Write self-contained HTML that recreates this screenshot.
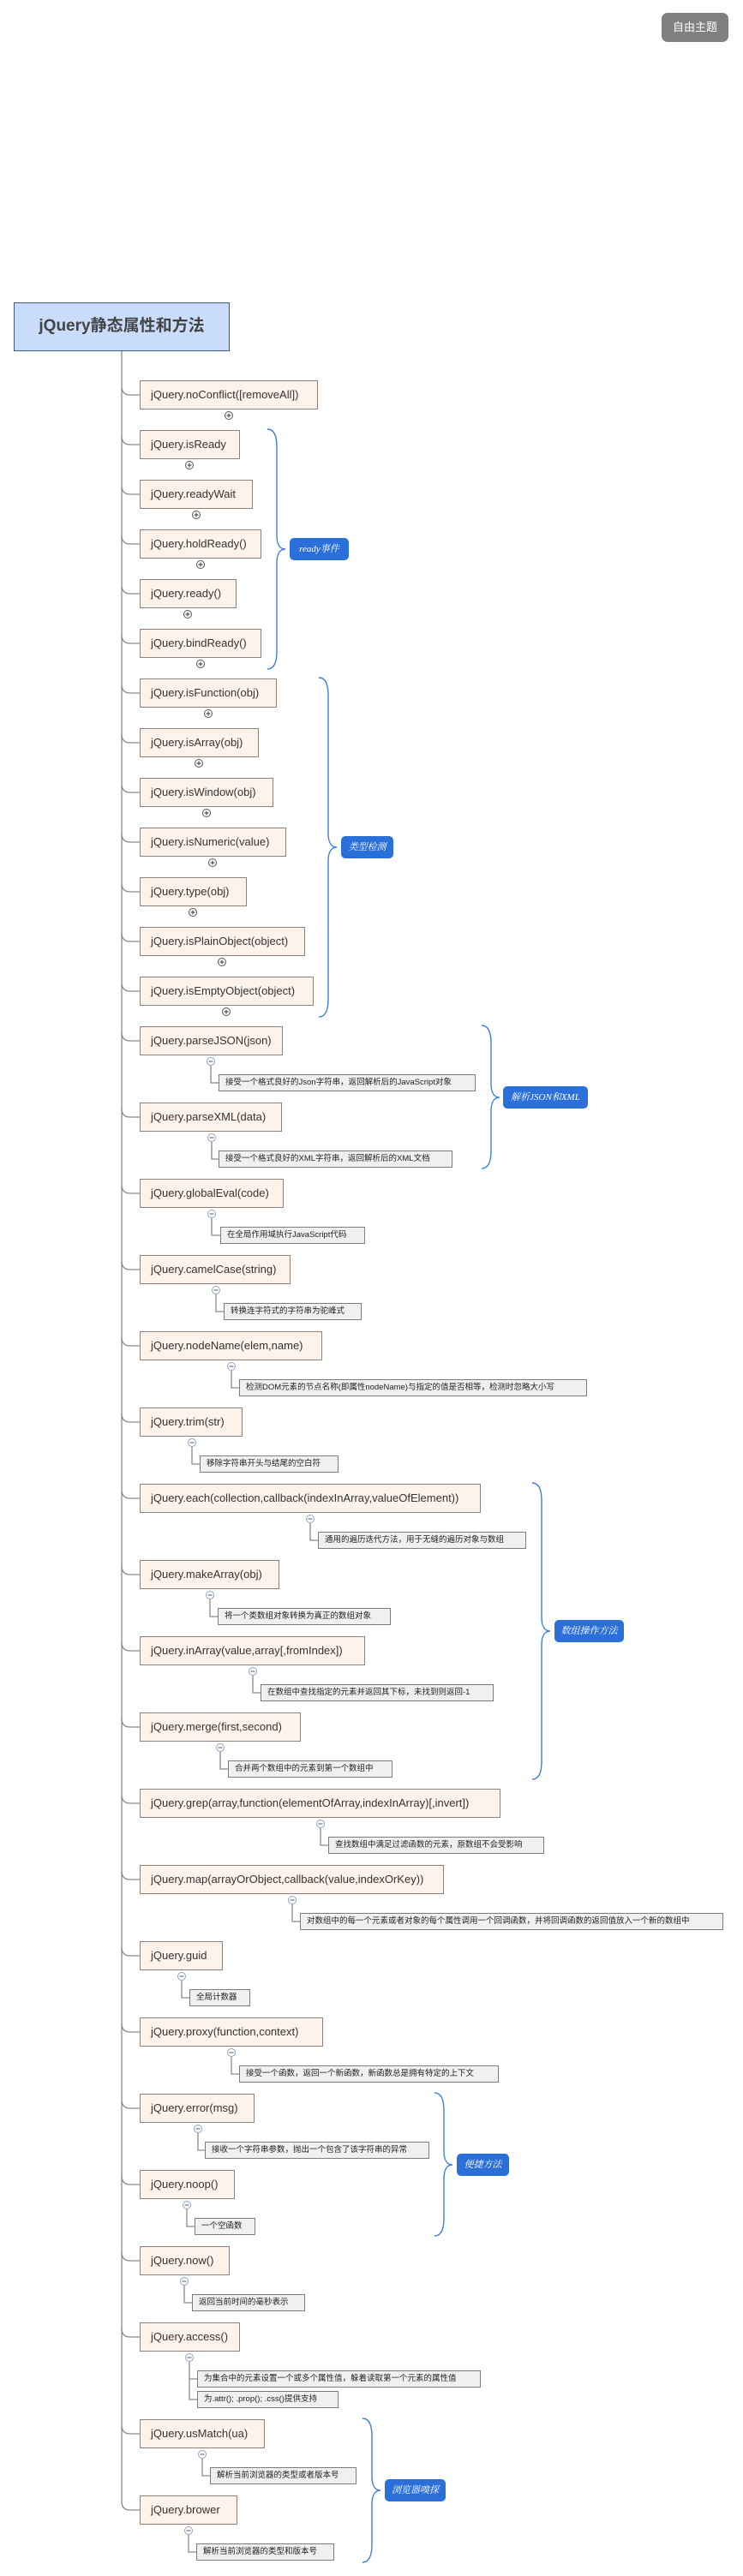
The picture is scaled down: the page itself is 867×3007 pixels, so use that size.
<!DOCTYPE html>
<html><head><meta charset="utf-8"><style>
body{margin:0;width:867px;height:3007px;position:relative;background:#fff;font-family:"Liberation Sans","Noto Sans CJK SC",sans-serif;overflow:hidden}
.n{position:absolute;left:163px;height:34px;box-sizing:border-box;border:1px solid #8f8079;background:#fdf3ea;font-size:13px;line-height:32px;padding-left:12px;color:#333;white-space:nowrap}
.d{position:absolute;height:20px;box-sizing:border-box;border:1px solid #7d7d7d;background:#f0f0f0;font-size:9.5px;line-height:18px;padding-left:7px;color:#222;white-space:nowrap;overflow:hidden}
.t{position:absolute;height:26px;background:#2b70d9;border-radius:5px;color:#fff;font-family:"Liberation Serif","Noto Serif CJK SC",serif;font-style:italic;font-size:11px;line-height:26px;text-align:center}
svg{position:absolute;left:0;top:0}
</style></head><body>
<div style="position:absolute;left:772px;top:15px;width:78px;height:34px;background:#808080;border-radius:7px;color:#fff;font-size:13px;line-height:34px;text-align:center">自由主题</div>
<div style="position:absolute;left:16px;top:353px;width:252px;height:57px;box-sizing:border-box;border:1.5px solid #3b5a8a;background:#c9ddfb;color:#444;font-weight:bold;font-size:19px;line-height:54px;text-align:center">jQuery静态属性和方法</div>

<svg width="867" height="3007" fill="none">
<g stroke="#8a8a8a" stroke-width="1.3">
<path d="M142 410 V2920 Q142 2930 152 2930 H163"/>
<path d="M142 451 Q142 461 152 461 H163 M142 509 Q142 519 152 519 H163 M142 567 Q142 577 152 577 H163 M142 625 Q142 635 152 635 H163 M142 683 Q142 693 152 693 H163 M142 741 Q142 751 152 751 H163 M142 799 Q142 809 152 809 H163 M142 857 Q142 867 152 867 H163 M142 915 Q142 925 152 925 H163 M142 973 Q142 983 152 983 H163 M142 1031 Q142 1041 152 1041 H163 M142 1089 Q142 1099 152 1099 H163 M142 1147 Q142 1157 152 1157 H163 M142 1205 Q142 1215 152 1215 H163 M142 1294 Q142 1304 152 1304 H163 M142 1383 Q142 1393 152 1393 H163 M142 1472 Q142 1482 152 1482 H163 M142 1561 Q142 1571 152 1571 H163 M142 1650 Q142 1660 152 1660 H163 M142 1739 Q142 1749 152 1749 H163 M142 1828 Q142 1838 152 1838 H163 M142 1917 Q142 1927 152 1927 H163 M142 2006 Q142 2016 152 2016 H163 M142 2095 Q142 2105 152 2105 H163 M142 2184 Q142 2194 152 2194 H163 M142 2273 Q142 2283 152 2283 H163 M142 2362 Q142 2372 152 2372 H163 M142 2451 Q142 2461 152 2461 H163 M142 2540 Q142 2550 152 2550 H163 M142 2629 Q142 2639 152 2639 H163 M142 2718 Q142 2728 152 2728 H163 M142 2831 Q142 2841 152 2841 H163"/>
<path d="M246 1244V1264H255M247 1333V1353H255M247 1422V1442H257M252 1511V1531H261M270 1600V1620H279M224 1689V1709H233M362 1778V1798H371M245 1867V1887H254M295 1956V1976H304M257 2045V2065H266M374 2134V2154H383M341 2223V2243H350M212 2312V2332H221M270 2401V2421H279M231 2490V2510H239M218 2579V2599H227M215 2668V2688H224M221 2757V2801H230M221 2777H230M236 2870V2890H245M220 2959V2979H229"/>
</g>
<g stroke="#555" stroke-width="1" fill="#fff">
<circle cx="267" cy="485" r="4.5"/><circle cx="221" cy="543" r="4.5"/><circle cx="229" cy="601" r="4.5"/><circle cx="234" cy="659" r="4.5"/><circle cx="219" cy="717" r="4.5"/><circle cx="234" cy="775" r="4.5"/><circle cx="243" cy="833" r="4.5"/><circle cx="232" cy="891" r="4.5"/><circle cx="241" cy="949" r="4.5"/><circle cx="248" cy="1007" r="4.5"/><circle cx="225" cy="1065" r="4.5"/><circle cx="259" cy="1123" r="4.5"/><circle cx="264" cy="1181" r="4.5"/>
</g>
<g stroke="#333" stroke-width="1">
<path d="M264.5 485h5M267 482.5v5M218.5 543h5M221 540.5v5M226.5 601h5M229 598.5v5M231.5 659h5M234 656.5v5M216.5 717h5M219 714.5v5M231.5 775h5M234 772.5v5M240.5 833h5M243 830.5v5M229.5 891h5M232 888.5v5M238.5 949h5M241 946.5v5M245.5 1007h5M248 1004.5v5M222.5 1065h5M225 1062.5v5M256.5 1123h5M259 1120.5v5M261.5 1181h5M264 1178.5v5"/>
</g>
<g stroke="#8aa4cc" stroke-width="1" fill="#fff">
<circle cx="246" cy="1239" r="4.5"/><circle cx="247" cy="1328" r="4.5"/><circle cx="247" cy="1417" r="4.5"/><circle cx="252" cy="1506" r="4.5"/><circle cx="270" cy="1595" r="4.5"/><circle cx="224" cy="1684" r="4.5"/><circle cx="362" cy="1773" r="4.5"/><circle cx="245" cy="1862" r="4.5"/><circle cx="295" cy="1951" r="4.5"/><circle cx="257" cy="2040" r="4.5"/><circle cx="374" cy="2129" r="4.5"/><circle cx="341" cy="2218" r="4.5"/><circle cx="212" cy="2307" r="4.5"/><circle cx="270" cy="2396" r="4.5"/><circle cx="231" cy="2485" r="4.5"/><circle cx="218" cy="2574" r="4.5"/><circle cx="215" cy="2663" r="4.5"/><circle cx="221" cy="2752" r="4.5"/><circle cx="236" cy="2865" r="4.5"/><circle cx="220" cy="2954" r="4.5"/>
</g>
<g stroke="#555" stroke-width="1">
<path d="M243.5 1239h5M244.5 1328h5M244.5 1417h5M249.5 1506h5M267.5 1595h5M221.5 1684h5M359.5 1773h5M242.5 1862h5M292.5 1951h5M254.5 2040h5M371.5 2129h5M338.5 2218h5M209.5 2307h5M267.5 2396h5M228.5 2485h5M215.5 2574h5M212.5 2663h5M218.5 2752h5M233.5 2865h5M217.5 2954h5"/>
</g>
<g stroke="#3a7fe0" stroke-width="1.4">
<path d="M312 501 C320 501 323 510 323 522 L323 625 C323 636 327 641 333 641 C327 641 323 646 323 657 L323 760 C323 772 320 781 312 781"/>
<path d="M372 791 C380 791 383 800 383 812 L383 973 C383 984 387 989 393 989 C387 989 383 994 383 1005 L383 1166 C383 1178 380 1187 372 1187"/>
<path d="M562 1197 C570 1197 573 1206 573 1218 L573 1265 C573 1276 577 1281 583 1281 C577 1281 573 1286 573 1297 L573 1343 C573 1355 570 1364 562 1364"/>
<path d="M621 1731 C629 1731 632 1740 632 1752 L632 1888 C632 1899 636 1904 642 1904 C636 1904 632 1909 632 1920 L632 2056 C632 2068 629 2077 621 2077"/>
<path d="M507 2443 C515 2443 518 2452 518 2464 L518 2511 C518 2522 522 2527 528 2527 C522 2527 518 2532 518 2543 L518 2589 C518 2601 515 2610 507 2610"/>
<path d="M423 2823 C431 2823 434 2832 434 2844 L434 2891 C434 2902 438 2907 444 2907 C438 2907 434 2912 434 2923 L434 2970 C434 2982 431 2991 423 2991"/>
</g>
</svg>

<div class="n" style="top:444px;width:208px">jQuery.noConflict([removeAll])</div>
<div class="n" style="top:502px;width:117px">jQuery.isReady</div>
<div class="n" style="top:560px;width:132px">jQuery.readyWait</div>
<div class="n" style="top:618px;width:142px">jQuery.holdReady()</div>
<div class="n" style="top:676px;width:113px">jQuery.ready()</div>
<div class="n" style="top:734px;width:142px">jQuery.bindReady()</div>
<div class="n" style="top:792px;width:160px">jQuery.isFunction(obj)</div>
<div class="n" style="top:850px;width:139px">jQuery.isArray(obj)</div>
<div class="n" style="top:908px;width:156px">jQuery.isWindow(obj)</div>
<div class="n" style="top:966px;width:171px">jQuery.isNumeric(value)</div>
<div class="n" style="top:1024px;width:125px">jQuery.type(obj)</div>
<div class="n" style="top:1082px;width:193px">jQuery.isPlainObject(object)</div>
<div class="n" style="top:1140px;width:203px">jQuery.isEmptyObject(object)</div>
<div class="n" style="top:1198px;width:167px">jQuery.parseJSON(json)</div>
<div class="n" style="top:1287px;width:166px">jQuery.parseXML(data)</div>
<div class="n" style="top:1376px;width:168px">jQuery.globalEval(code)</div>
<div class="n" style="top:1465px;width:176px">jQuery.camelCase(string)</div>
<div class="n" style="top:1554px;width:213px">jQuery.nodeName(elem,name)</div>
<div class="n" style="top:1643px;width:120px">jQuery.trim(str)</div>
<div class="n" style="top:1732px;width:398px">jQuery.each(collection,callback(indexInArray,valueOfElement))</div>
<div class="n" style="top:1821px;width:163px">jQuery.makeArray(obj)</div>
<div class="n" style="top:1910px;width:263px">jQuery.inArray(value,array[,fromIndex])</div>
<div class="n" style="top:1999px;width:188px">jQuery.merge(first,second)</div>
<div class="n" style="top:2088px;width:421px">jQuery.grep(array,function(elementOfArray,indexInArray)[,invert])</div>
<div class="n" style="top:2177px;width:355px">jQuery.map(arrayOrObject,callback(value,indexOrKey))</div>
<div class="n" style="top:2266px;width:97px">jQuery.guid</div>
<div class="n" style="top:2355px;width:214px">jQuery.proxy(function,context)</div>
<div class="n" style="top:2444px;width:134px">jQuery.error(msg)</div>
<div class="n" style="top:2533px;width:111px">jQuery.noop()</div>
<div class="n" style="top:2622px;width:105px">jQuery.now()</div>
<div class="n" style="top:2711px;width:117px">jQuery.access()</div>
<div class="n" style="top:2824px;width:146px">jQuery.usMatch(ua)</div>
<div class="n" style="top:2913px;width:114px">jQuery.brower</div>

<div class="d" style="left:255px;top:1254px;width:300px">接受一个格式良好的Json字符串，返回解析后的JavaScript对象</div>
<div class="d" style="left:255px;top:1343px;width:273px">接受一个格式良好的XML字符串，返回解析后的XML文档</div>
<div class="d" style="left:257px;top:1432px;width:169px">在全局作用域执行JavaScript代码</div>
<div class="d" style="left:261px;top:1521px;width:161px">转换连字符式的字符串为驼峰式</div>
<div class="d" style="left:279px;top:1610px;width:406px">检测DOM元素的节点名称(即属性nodeName)与指定的值是否相等，检测时忽略大小写</div>
<div class="d" style="left:233px;top:1699px;width:162px">移除字符串开头与结尾的空白符</div>
<div class="d" style="left:371px;top:1788px;width:243px">通用的遍历迭代方法，用于无缝的遍历对象与数组</div>
<div class="d" style="left:254px;top:1877px;width:202px">将一个类数组对象转换为真正的数组对象</div>
<div class="d" style="left:304px;top:1966px;width:272px">在数组中查找指定的元素并返回其下标，未找到则返回-1</div>
<div class="d" style="left:266px;top:2055px;width:192px">合并两个数组中的元素到第一个数组中</div>
<div class="d" style="left:383px;top:2144px;width:252px">查找数组中满足过滤函数的元素，原数组不会受影响</div>
<div class="d" style="left:350px;top:2233px;width:494px">对数组中的每一个元素或者对象的每个属性调用一个回调函数，并将回调函数的返回值放入一个新的数组中</div>
<div class="d" style="left:221px;top:2322px;width:71px">全局计数器</div>
<div class="d" style="left:279px;top:2411px;width:303px">接受一个函数，返回一个新函数，新函数总是拥有特定的上下文</div>
<div class="d" style="left:239px;top:2500px;width:262px">接收一个字符串参数，抛出一个包含了该字符串的异常</div>
<div class="d" style="left:227px;top:2589px;width:71px">一个空函数</div>
<div class="d" style="left:224px;top:2678px;width:132px">返回当前时间的毫秒表示</div>
<div class="d" style="left:230px;top:2767px;width:331px">为集合中的元素设置一个或多个属性值，躲着读取第一个元素的属性值</div>
<div class="d" style="left:230px;top:2791px;width:165px">为.attr(); .prop(); .css()提供支持</div>
<div class="d" style="left:245px;top:2880px;width:171px">解析当前浏览器的类型或者版本号</div>
<div class="d" style="left:229px;top:2969px;width:161px">解析当前浏览器的类型和版本号</div>

<div class="t" style="left:338px;top:628px;width:69px">ready事件</div>
<div class="t" style="left:398px;top:976px;width:61px">类型检测</div>
<div class="t" style="left:587px;top:1268px;width:99px">解析JSON和XML</div>
<div class="t" style="left:647px;top:1891px;width:81px">数组操作方法</div>
<div class="t" style="left:533px;top:2514px;width:61px">便捷方法</div>
<div class="t" style="left:449px;top:2894px;width:71px">浏览器嗅探</div>
</body></html>
